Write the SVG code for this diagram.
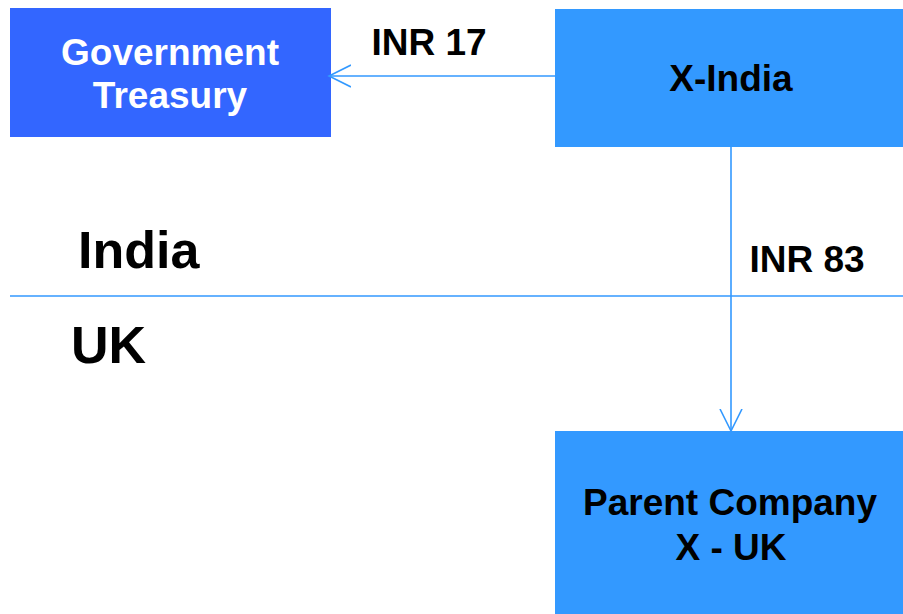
<svg xmlns="http://www.w3.org/2000/svg" width="903" height="614" viewBox="0 0 903 614">
<style>
text{font-family:"Liberation Sans",Arial,sans-serif;font-weight:bold;text-anchor:middle}
.lbl{font-size:37px;fill:#000}
.big{font-size:52px;fill:#000;text-anchor:start}
.wl{font-size:37px;fill:#fff}
.conn{stroke:#3399FF;stroke-width:1.6;fill:none}
</style>
<defs>
<marker id="open" viewBox="0 0 24 24" refX="22" refY="12" markerWidth="24" markerHeight="24" markerUnits="userSpaceOnUse" orient="auto">
<path d="M0,1 L22,12 L0,23" fill="none" stroke="#3399FF" stroke-width="1.6"/>
</marker>
</defs>
<rect width="903" height="614" fill="#fff"/>
<g id="gov">
<rect x="10" y="8" width="321" height="129" fill="#3366FF"/>
<text class="wl" x="170" y="65">Government</text>
<text class="wl" x="170" y="108">Treasury</text>
</g>
<g id="xindia">
<rect x="555" y="9" width="348" height="138" fill="#3399FF"/>
<text class="lbl" x="731" y="91">X-India</text>
</g>
<g id="parent">
<rect x="555" y="431" width="348" height="183" fill="#3399FF"/>
<text class="lbl" x="730" y="515">Parent Company</text>
<text class="lbl" x="731" y="560">X - UK</text>
</g>
<g id="connectors">
<line class="conn" x1="10" y1="296" x2="903" y2="296"/>
<line class="conn" x1="555" y1="76" x2="329" y2="76" marker-end="url(#open)"/>
<line class="conn" x1="731" y1="147" x2="731" y2="431" marker-end="url(#open)"/>
</g>
<g id="labels">
<text class="lbl" x="429" y="55">INR 17</text>
<text class="lbl" x="807" y="272">INR 83</text>
<text class="big" x="78" y="268">India</text>
<text class="big" x="71" y="363">UK</text>
</g>
</svg>
